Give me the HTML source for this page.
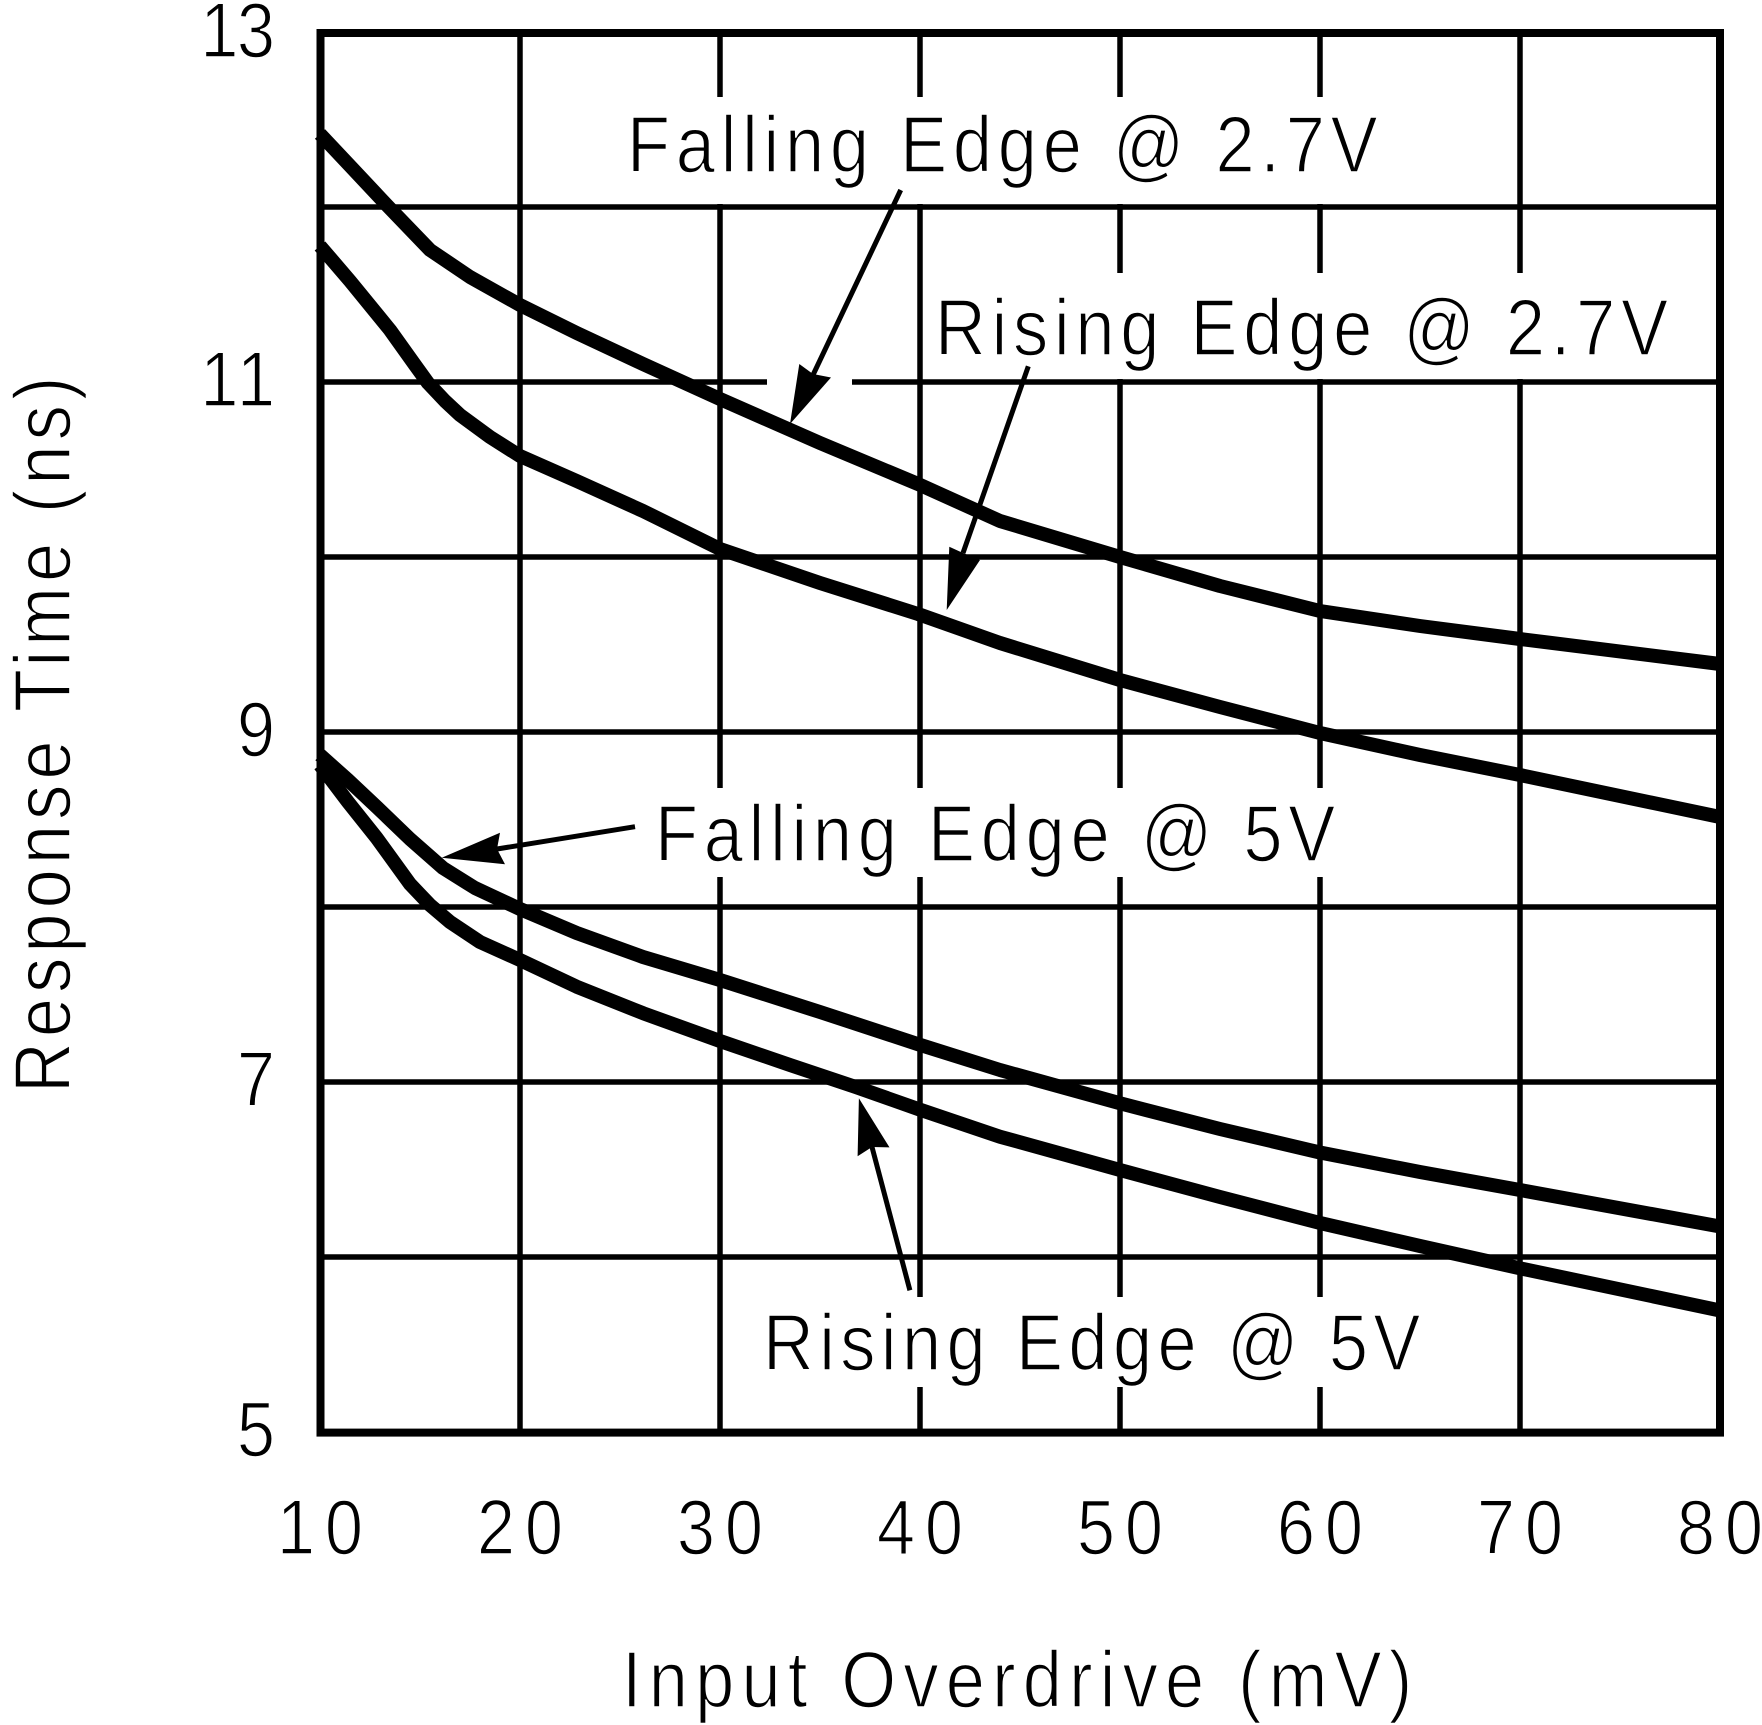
<!DOCTYPE html>
<html>
<head>
<meta charset="utf-8">
<style>
html,body{margin:0;padding:0;background:#fff;}
svg{display:block;}
text{font-family:"Liberation Sans", "DejaVu Sans", sans-serif;fill:#000;stroke:#fff;stroke-width:1.6;}
</style>
</head>
<body>
<svg width="1762" height="1725" viewBox="0 0 1762 1725" xmlns="http://www.w3.org/2000/svg">
<rect x="0" y="0" width="1762" height="1725" fill="#fff"/>

<!-- vertical gridlines -->
<g stroke="#000" stroke-width="5.5">
<line x1="520" y1="33" x2="520" y2="1432"/>
<line x1="720" y1="33" x2="720" y2="1432"/>
<line x1="920" y1="33" x2="920" y2="1432"/>
<line x1="1120" y1="33" x2="1120" y2="1432"/>
<line x1="1320" y1="33" x2="1320" y2="1432"/>
<line x1="1520" y1="33" x2="1520" y2="1432"/>
</g>

<!-- white label boxes -->
<g fill="#fff">
<rect x="622" y="97" width="778" height="107"/>
<rect x="926" y="273" width="764" height="106"/>
<rect x="640" y="788" width="705" height="89"/>
<rect x="755" y="1297" width="685" height="90"/>
</g>

<!-- horizontal gridlines -->
<g stroke="#000" stroke-width="5.5">
<line x1="320" y1="207" x2="1720" y2="207"/>
<line x1="320" y1="382" x2="767" y2="382"/>
<line x1="852" y1="382" x2="1720" y2="382"/>
<line x1="320" y1="557" x2="1720" y2="557"/>
<line x1="320" y1="732" x2="1720" y2="732"/>
<line x1="320" y1="907" x2="1720" y2="907"/>
<line x1="320" y1="1082" x2="1720" y2="1082"/>
<line x1="320" y1="1257" x2="1720" y2="1257"/>
</g>

<!-- curves -->
<g fill="none" stroke="#000" stroke-width="14" stroke-linejoin="round" stroke-linecap="butt">
<polyline points="320,134 352,168 386.7,205 430,250 470,277 520,305 576.7,333 643,364 720,399 820,443 918,484 1000,521 1120,557 1220,586 1320,611 1420,626 1520,639 1720,664"/>
<polyline points="320,246 350,281 390,330 415,365 428,383 445,401 460,415 490,437 520,456 576.7,481 643,511 720,549 820,583 918,614 1000,643 1120,680 1220,707 1320,733 1420,755 1520,775 1720,817"/>
<polyline points="320,755 348,780 376.7,807 410,839 443,868 475,888 520,909 576.7,933 643,957 720,980 820,1012 919.5,1044.7 1000,1070 1120,1103.3 1220,1129 1320,1152.5 1420,1172 1520,1190 1720,1226.5"/>
<polyline points="320,765 348,802 376.7,838 410,884 430,905 450,922 480,942 520,960 576.7,986.7 643.3,1013.3 720,1041 790,1065 855.7,1087 919.5,1109.5 1000,1136.7 1120,1170 1220,1197 1320,1223 1420,1246 1520,1268.3 1720,1310.5"/>
</g>

<!-- frame -->
<rect x="320.5" y="33" width="1399.5" height="1399.6" fill="none" stroke="#000" stroke-width="8"/>

<!-- arrows -->
<g stroke="#000" stroke-width="5" fill="none">
<line x1="900.7" y1="190" x2="813" y2="375"/>
<line x1="1028.3" y1="366.3" x2="963" y2="553"/>
<line x1="635" y1="826.7" x2="497" y2="849"/>
<line x1="909.9" y1="1290.3" x2="872" y2="1147"/>
</g>
<g fill="#000">
<polygon points="790,424 799.3,364 813,374 831,377.5"/>
<polygon points="946.7,610 949.3,546.7 963,553 980,560"/>
<polygon points="441.7,857.7 500,832.7 497,849 505,864.3"/>
<polygon points="858.9,1098.3 857.6,1156.3 872,1147 889.5,1147.4"/>
</g>

<!-- annotation labels -->
<text transform="translate(627,172) scale(0.88,1)" x="0" y="0" font-size="80" textLength="853" lengthAdjust="spacing">Falling Edge @ 2.7V</text>
<text transform="translate(935,355) scale(0.88,1)" x="0" y="0" font-size="80" textLength="833" lengthAdjust="spacing">Rising Edge @ 2.7V</text>
<text transform="translate(655,861) scale(0.88,1)" x="0" y="0" font-size="80" textLength="773" lengthAdjust="spacing">Falling Edge @ 5V</text>
<text transform="translate(763,1370) scale(0.88,1)" x="0" y="0" font-size="80" textLength="747" lengthAdjust="spacing">Rising Edge @ 5V</text>

<!-- y tick labels -->
<g font-size="78" text-anchor="end">
<text transform="translate(275,57) scale(0.88,1)" x="0" y="0" textLength="85" lengthAdjust="spacing">13</text>
<text transform="translate(275,406) scale(0.88,1)" x="0" y="0" textLength="85" lengthAdjust="spacing">11</text>
<text transform="translate(275,756) scale(0.88,1)" x="0" y="0">9</text>
<text transform="translate(275,1106) scale(0.88,1)" x="0" y="0">7</text>
<text transform="translate(275,1456) scale(0.88,1)" x="0" y="0">5</text>
</g>

<!-- x tick labels -->
<g font-size="78" text-anchor="middle">
<text transform="translate(320,1554) scale(0.88,1)" x="0" y="0" textLength="98" lengthAdjust="spacing">10</text>
<text transform="translate(520,1554) scale(0.88,1)" x="0" y="0" textLength="98" lengthAdjust="spacing">20</text>
<text transform="translate(720,1554) scale(0.88,1)" x="0" y="0" textLength="98" lengthAdjust="spacing">30</text>
<text transform="translate(920,1554) scale(0.88,1)" x="0" y="0" textLength="98" lengthAdjust="spacing">40</text>
<text transform="translate(1120,1554) scale(0.88,1)" x="0" y="0" textLength="98" lengthAdjust="spacing">50</text>
<text transform="translate(1320,1554) scale(0.88,1)" x="0" y="0" textLength="98" lengthAdjust="spacing">60</text>
<text transform="translate(1520,1554) scale(0.88,1)" x="0" y="0" textLength="98" lengthAdjust="spacing">70</text>
<text transform="translate(1720,1554) scale(0.88,1)" x="0" y="0" textLength="98" lengthAdjust="spacing">80</text>
</g>

<!-- axis titles -->
<text transform="translate(622,1707) scale(0.88,1)" x="0" y="0" font-size="80" textLength="898" lengthAdjust="spacing">Input Overdrive (mV)</text>
<text transform="translate(70,1093) rotate(-90) scale(0.88,1)" x="0" y="0" font-size="80" textLength="814" lengthAdjust="spacing">Response Time (ns)</text>
</svg>
</body>
</html>
